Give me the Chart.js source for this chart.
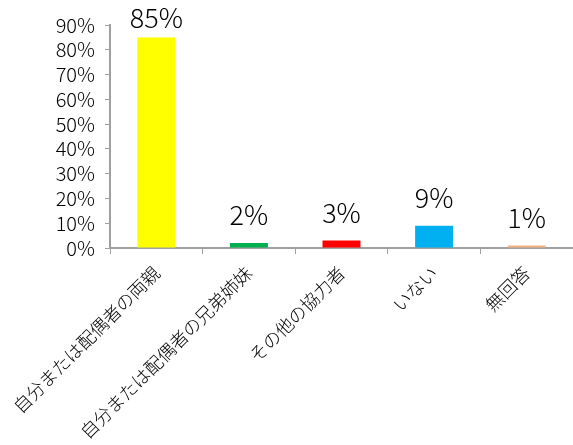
<!DOCTYPE html>
<html>
<head>
<meta charset="utf-8">
<script src="https://cdn.jsdelivr.net/npm/chart.js@4/dist/chart.umd.min.js"></script>
<style>
html,body{margin:0;padding:0;background:#fff;}
canvas{display:block;}
</style>
</head>
<body>
<canvas id="c" width="573" height="445"></canvas>
<script>
const categories = ["自分または配偶者の両親", "自分または配偶者の兄弟姉妹", "その他の協力者", "いない", "無回答"];
const values = [85, 2, 3, 9, 1];
const barColors = ["#FFFF00", "#00B050", "#FF0000", "#00B0F0", "#F4B183"];
const yTicks = [0, 10, 20, 30, 40, 50, 60, 70, 80, 90];

const FONT = "'Noto Sans CJK JP', 'Noto Sans', sans-serif";

const valueLabels = {
  id: 'valueLabels',
  afterDatasetsDraw(chart) {
    const ctx = chart.ctx;
    const meta = chart.getDatasetMeta(0);
    ctx.save();
    ctx.font = "300 27px " + FONT;
    ctx.fillStyle = "#000";
    ctx.textAlign = "center";
    ctx.textBaseline = "alphabetic";
    meta.data.forEach((bar, i) => {
      let y = bar.y - 18;
      if (y < 28) y = 28;
      ctx.fillText(values[i] + "%", bar.x, y);
    });
    ctx.restore();
  }
};

new Chart(document.getElementById('c'), {
  type: 'bar',
  data: {
    labels: categories,
    datasets: [{
      data: values,
      backgroundColor: barColors,
      borderWidth: 0,
      barPercentage: 0.41,
      categoryPercentage: 1.0
    }]
  },
  options: {
    responsive: false,
    animation: false,
    layout: { padding: { top: 25, left: 0, right: 0, bottom: 0 } },
    plugins: { legend: { display: false }, tooltip: { enabled: false } },
    scales: {
      x: {
        grid: { drawOnChartArea: false, drawTicks: true, tickLength: 6, color: "#A0A0A0", offset: true },
        border: { color: "#A0A0A0", width: 2 },
        ticks: {
          color: "#000",
          font: { family: FONT, size: 18, weight: 300 },
          maxRotation: 45, minRotation: 45,
          padding: 8,
          autoSkip: false
        },
        afterFit(scale) { scale.height = 197; scale.paddingLeft = 0; scale.paddingRight = 0; }
      },
      y: {
        min: 0, max: 90,
        afterBuildTicks(scale) { scale.ticks = yTicks.map(v => ({ value: v })); },
        grid: { drawOnChartArea: false, drawTicks: true, tickLength: 5, color: "#A0A0A0" },
        border: { color: "#A0A0A0", width: 2 },
        ticks: {
          color: "#000",
          font: { family: FONT, size: 20, weight: 300 },
          padding: 10,
          autoSkip: false,
          callback: (v) => v + "%"
        },
        afterFit(scale) { scale.width = 110; scale.paddingTop = 0; scale.paddingBottom = 0; }
      }
    }
  },
  plugins: [valueLabels]
});
</script>
</body>
</html>
